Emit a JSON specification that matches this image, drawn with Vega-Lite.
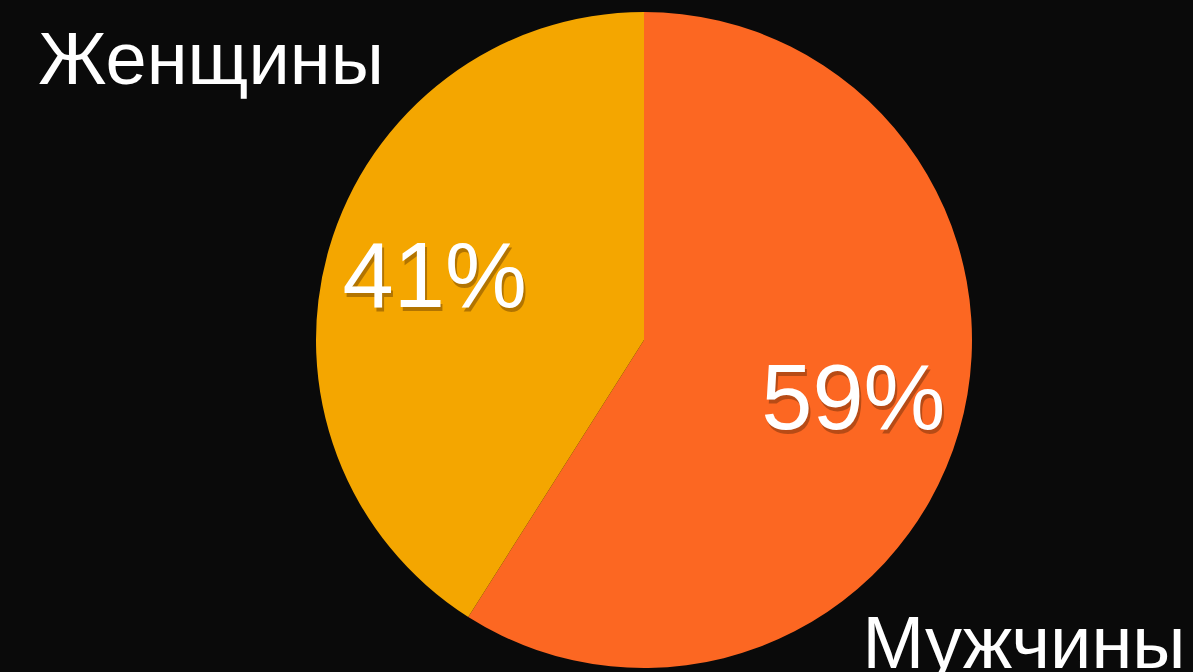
{
  "$schema": "https://vega.github.io/schema/vega-lite/v6.json",
  "width": 1098,
  "height": 664,
  "autosize": {"type": "none"},
  "padding": {"left": 95, "top": 8, "right": 0, "bottom": 0},
  "background": "#0a0a0a",
  "config": {"view": {"stroke": null}, "font": "Liberation Sans"},
  "data": {
    "values": [
      {"sex": "Мужчины", "share": 59, "label": "59%"},
      {"sex": "Женщины", "share": 41, "label": "41%"}
    ]
  },
  "layer": [
    {
      "mark": {"type": "arc", "outerRadius": 328, "stroke": null},
      "encoding": {
        "theta": {"field": "share", "type": "quantitative", "stack": true},
        "order": {"field": "sex", "sort": "descending"},
        "color": {
          "field": "sex",
          "type": "nominal",
          "scale": {"domain": ["Мужчины", "Женщины"], "range": ["#FC6722", "#F4A600"]},
          "legend": null
        }
      }
    },
    {
      "mark": {"type": "text", "radius": 218, "fontSize": 92, "color": "#3a1a00", "opacity": 0.35, "dx": 2, "dy": 4, "baseline": "middle", "align": "center"},
      "encoding": {
        "theta": {"field": "share", "type": "quantitative", "stack": true},
        "order": {"field": "sex", "sort": "descending"},
        "detail": {"field": "sex"},
        "text": {"field": "label"}
      }
    },
    {
      "mark": {"type": "text", "radius": 218, "fontSize": 92, "color": "#ffffff", "baseline": "middle", "align": "center"},
      "encoding": {
        "theta": {"field": "share", "type": "quantitative", "stack": true},
        "order": {"field": "sex", "sort": "descending"},
        "detail": {"field": "sex"},
        "text": {"field": "label"}
      }
    },
    {
      "mark": {"type": "text", "fontSize": 74, "color": "#ffffff", "baseline": "alphabetic", "align": "center"},
      "encoding": {
        "x": {"field": "sex", "type": "nominal", "axis": null, "scale": {"type": "point", "padding": 0, "domain": ["Женщины", "Мужчины"], "range": [116, 929]}},
        "y": {"field": "sex", "type": "nominal", "axis": null, "scale": {"type": "point", "padding": 0, "domain": ["Женщины", "Мужчины"], "range": [76, 660]}},
        "text": {"field": "sex"}
      }
    }
  ],
  "resolve": {"scale": {"theta": "shared"}}
}
